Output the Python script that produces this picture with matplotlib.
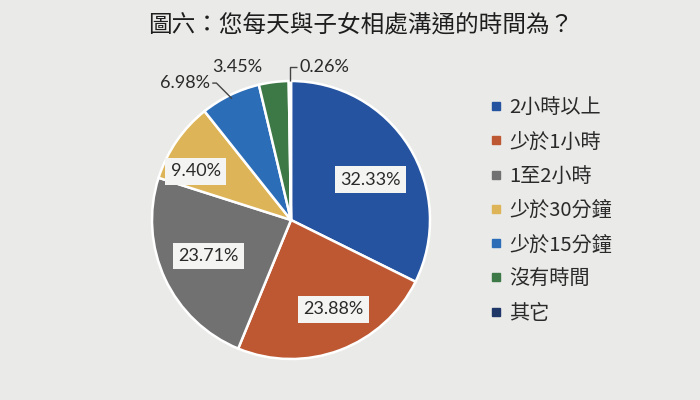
import matplotlib
matplotlib.use("Agg")
import matplotlib.pyplot as plt
import numpy as np
from matplotlib.lines import Line2D

title = "圖六：您每天與子女相處溝通的時間為？"
categories = ["2小時以上", "少於1小時", "1至2小時", "少於30分鐘", "少於15分鐘", "沒有時間", "其它"]
values = [32.33, 23.88, 23.71, 9.40, 6.98, 3.45, 0.26]
labels = ["32.33%", "23.88%", "23.71%", "9.40%", "6.98%", "3.45%", "0.26%"]
colors = ["#2553A0", "#BD5833", "#717171", "#DDB558", "#2C6DB8", "#3C7946", "#1F3668"]

plt.rcParams['font.family'] = ['Noto Sans CJK TC', 'DejaVu Sans']
BG = "#EAEAE8"
fig = plt.figure(figsize=(7, 4), dpi=100, facecolor=BG)

# pie axes: centre at (291, 220) px, radius ~139 px
R = 139.0
half = 150.0
ax = fig.add_axes([(291 - half) / 700, (180 - half) / 400, 2 * half / 700, 2 * half / 400])
ax.set_facecolor(BG)
wedges, _ = ax.pie(values, colors=colors, startangle=90, counterclock=False,
                   radius=1.0, wedgeprops=dict(edgecolor="white", linewidth=1.8))
lim = half / R
ax.set_xlim(-lim, lim)
ax.set_ylim(-lim, lim)
ax.set_aspect("equal")
ax.axis("off")

lab_font = dict(fontsize=13, family=['Lato', 'DejaVu Sans'], color="#2A2A2A")


def mid(i):
    w = wedges[i]
    return np.deg2rad((w.theta1 + w.theta2) / 2)


inside_r = [0.64, 0.71, 0.65, 0.77]
inside_da = [-5.0, 4.7, -1.5, 7.6]
for i in range(4):
    ang = mid(i) + np.deg2rad(inside_da[i])
    r = inside_r[i]
    ax.text(r * np.cos(ang), r * np.sin(ang), labels[i], ha="center", va="center",
            bbox=dict(boxstyle="square,pad=0.3", fc="#F4F4F2", ec="none"), **lab_font)

lc = dict(color="#444444", lw=1.0, clip_on=False, solid_capstyle="butt")

# 6.98% with leader: short horizontal then diagonal into wedge
a = mid(4)
px, py = 0.97 * np.cos(a), 0.97 * np.sin(a)
ty = 0.985
cx = px - (ty - py)          # 45-degree diagonal
ax.plot([cx - 0.03, cx, px], [ty, ty, py], **lc)
ax.text(cx - 0.045, ty, labels[4], ha="right", va="center", **lab_font)

# 3.45%
ax.text(-0.39, 1.10, labels[5], ha="center", va="center", **lab_font)

# 0.26% with leader: vertical up from wedge then short horizontal
a = mid(6)
px, py = np.cos(a), np.sin(a)
ty = 1.10
ax.plot([px, px, px + 0.05], [py, ty, ty], **lc)
ax.text(px + 0.07, ty, labels[6], ha="left", va="center", **lab_font)

fig.text(361 / 700, 1 - 25 / 400, title, ha="center", va="center",
         fontsize=17, color="#1E1E1E")

handles = [Line2D([], [], marker="s", linestyle="none", markersize=6,
                  markerfacecolor=c, markeredgecolor=c) for c in colors]
leg = fig.legend(handles, categories, loc="upper left",
                 bbox_to_anchor=(480 / 700, 1 - 89 / 400), frameon=False,
                 fontsize=14.5, labelspacing=0.66, handlelength=0.8,
                 handletextpad=0.25, borderaxespad=0)
for t in leg.get_texts():
    t.set_color("#2A2A2A")

fig.savefig("out.png", dpi=100, facecolor=BG)
